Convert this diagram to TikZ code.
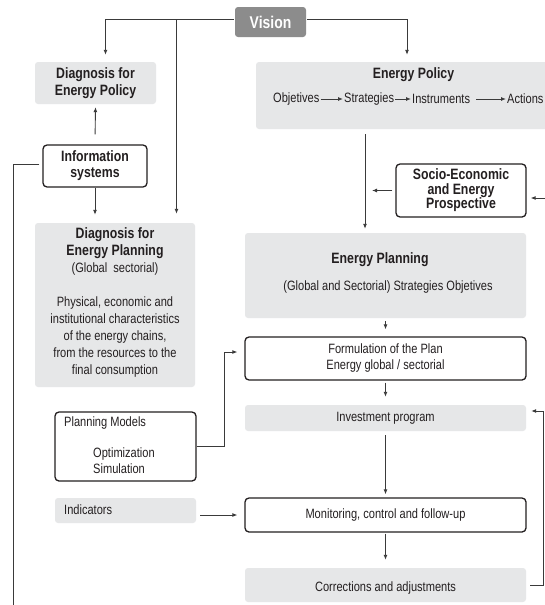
\documentclass[tikz,border=0pt]{standalone}
\usepackage{fontspec}
\setmainfont{Liberation Sans}[FakeStretch=0.82]
\usetikzlibrary{arrows.meta,calc}
\definecolor{boxgray}{HTML}{E6E7E8}
\definecolor{visgray}{HTML}{8C8C8C}
\definecolor{linec}{HTML}{3A3A3A}
\definecolor{edgec}{HTML}{231F20}
\definecolor{txt}{HTML}{231F20}
\newcommand\rfont{\fontsize{13.5}{17}\selectfont}
\newcommand\bfont{\fontsize{15}{17}\selectfont\bfseries}
\begin{document}
\begin{tikzpicture}[x=1pt,y=-1pt,
  gbox/.style={fill=boxgray, rounded corners=3pt, inner sep=0pt, align=center, text=txt},
  wbox/.style={draw=edgec, line width=1.3pt, fill=white, rounded corners=4pt, inner sep=0pt, align=center, text=txt},
  arr/.style={draw=linec, line width=0.9pt, -{Latex[length=5pt,width=4pt]}},
  ln/.style={draw=linec, line width=0.9pt},
  lbl/.style={inner sep=0pt, text=txt},
]
\useasboundingbox[fill=white] (0,0) rectangle (545,605);

% boxes
\node[gbox, fill=visgray, text=white, font=\fontsize{17}{20}\selectfont\bfseries, minimum width=71, minimum height=30] (vision) at (270.5,22) {Vision};
\node[gbox, font=\bfont, minimum width=121, minimum height=42] (dep) at (95.5,83) {Diagnosis for\\Energy Policy};
\node[gbox, minimum width=292, minimum height=67] (ep) at (402,95.5) {};
\node[lbl, font=\bfont] (eptitle) at (413.5,75) {Energy Policy};
\node[lbl, font=\rfont, anchor=west] (obj) at (273,99) {Objetives};
\node[lbl, font=\rfont, anchor=west] (str) at (344,99) {Strategies};
\node[lbl, font=\rfont, anchor=west] (ins) at (412,99) {Instruments};
\node[lbl, font=\rfont, anchor=west] (act) at (507,99) {Actions};

\node[wbox, font=\fontsize{15}{16}\selectfont\bfseries, minimum width=104, minimum height=42] (info) at (95,166) {Information\\systems};

\node[gbox, minimum width=160, minimum height=164] (dplan) at (115,305) {};
\node[lbl, font=\rfont, align=center] (dplantext) at (115,302) {{\bfont Diagnosis for}\\{\bfont Energy Planning}\\(Global\ \ sectorial)\\[17pt]Physical, economic and\\institutional characteristics\\of the energy chains,\\from the resources to the\\final consumption};

\node[wbox, font=\fontsize{15}{14.5}\selectfont\bfseries, minimum width=130, minimum height=53] (socio) at (461,190.5) {Socio-Economic\\and Energy\\Prospective};

\node[gbox, minimum width=281, minimum height=85] (eplan) at (385.5,275.5) {};
\node[lbl, font=\bfont] (eplantitle) at (380,260) {Energy Planning};
\node[lbl, font=\rfont] (eplansub) at (388,287) {(Global and Sectorial) Strategies Objetives};

\node[wbox, font=\fontsize{13.5}{16}\selectfont, minimum width=281, minimum height=43] (form) at (385.5,358.5) {Formulation of the Plan\\Energy global / sectorial};
\node[gbox, font=\rfont, minimum width=281, minimum height=26] (inv) at (385.5,418) {Investment program};

\node[wbox, minimum width=141, minimum height=69] (pm) at (125.5,446.5) {};
\node[lbl, font=\rfont, anchor=west] (pmt) at (64,423) {Planning Models};
\node[lbl, font=\rfont, anchor=west] (opt) at (93,454) {Optimization};
\node[lbl, font=\rfont, anchor=west] (sim) at (93,469) {Simulation};

\node[gbox, minimum width=141, minimum height=25] (ind) at (125.5,510.5) {};
\node[lbl, font=\rfont, anchor=west] (indt) at (64,510) {Indicators};

\node[wbox, font=\rfont, minimum width=281, minimum height=34] (mon) at (385.5,515) {Monitoring, control and follow-up};
\node[gbox, minimum width=281, minimum height=34] (corr) at (385.5,585) {};
\node[lbl, font=\rfont] (corrt) at (385.5,588) {Corrections and adjustments};

% connector coordinates
\coordinate (br) at (176.5,19);
\coordinate (lbot) at (13,606);
\coordinate (sociotip) at (372,190.5);
\coordinate (rin) at (547,198);
\coordinate (pmk) at (224,352);
\coordinate (rk) at (543,585);

% connectors
\draw[arr, shorten <=1pt, shorten >=7pt] ([yshift=3pt]vision.west) -| ([xshift=10pt]dep.north);
\draw[arr, shorten >=9pt] (br) -- (br |- dplan.north);
\draw[arr, shorten <=1pt, shorten >=7pt] ([yshift=3pt]vision.east) -| ([xshift=5pt]ep.north);
\draw[arr, shorten <=10pt, shorten >=3pt] (info.north) -- (dep.south);
\draw[arr, shorten >=8pt] (info.south) -- (info.south |- dplan.north);
\draw[ln, shorten <=3pt] ([yshift=2pt]info.west) -| (lbot);

\draw[arr, shorten <=1pt, shorten >=1pt] (obj.east) -- (str.west);
\draw[arr, shorten <=1pt, shorten >=1pt] (str.east) -- (ins.west);
\draw[arr, shorten <=6pt, shorten >=1pt] (ins.east) -- (act.west);

\draw[arr, shorten <=5pt, shorten >=4pt] ([xshift=-37pt]ep.south) -- ([xshift=-20.5pt]eplan.north);
\draw[arr, shorten <=3pt] (socio.west) -- (sociotip);
\draw[arr, shorten >=4pt] (rin) -- (rin -| socio.east);

\draw[arr, shorten <=3pt, shorten >=7pt] (eplan.south) -- (form.north);
\draw[arr, shorten <=2pt, shorten >=8pt] (form.south) -- (inv.north);
\draw[arr, shorten >=7pt] (pm.east) -| (pmk) -- (pmk -| form.west);
\draw[arr, shorten <=4pt, shorten >=3pt] (inv.south) -- (mon.north);
\draw[arr, shorten <=4pt, shorten >=7pt] (mon.west -| ind.east) -- (mon.west);
\draw[arr, shorten <=1pt, shorten >=8pt] (mon.south) -- (corr.north);
\draw[arr, shorten <=4pt, shorten >=5pt] (corr.east) -- (corr.east -| rk) |- ([yshift=7pt]inv.east);
\end{tikzpicture}
\end{document}
